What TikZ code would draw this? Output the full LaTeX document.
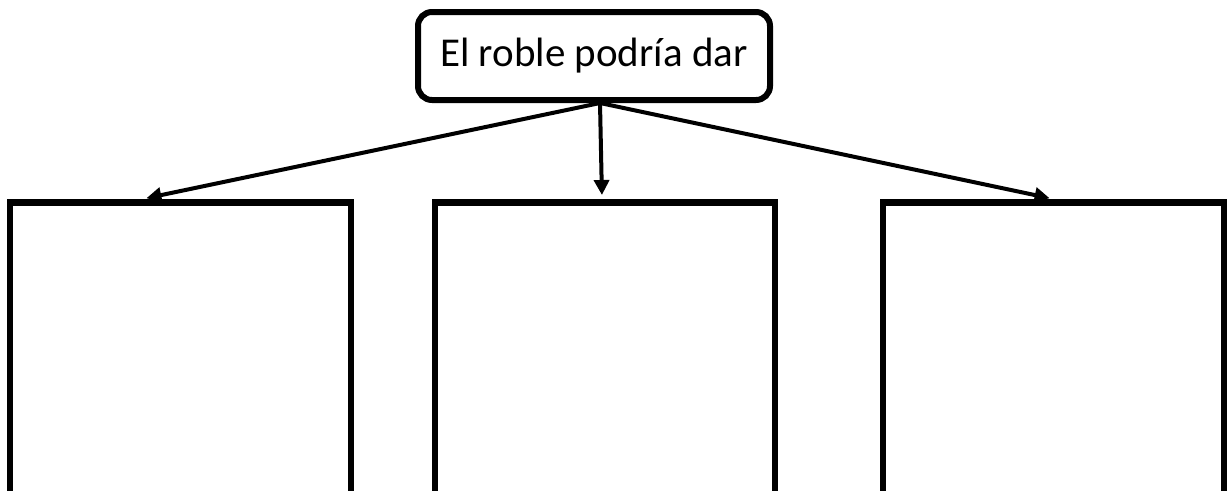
\documentclass[tikz,border=0pt]{standalone}
\usepackage{fontspec}
\setmainfont{Carlito}
\usetikzlibrary{positioning, arrows.meta, calc}
\tikzset{
    title/.style={rectangle, draw=black, line width=6pt, rounded corners=14pt, minimum width=352pt, minimum height=88pt, inner sep=0pt, align=center, font=\fontsize{41}{48}\selectfont},
    box/.style={rectangle, draw=black, line width=6.5pt, minimum height=400pt, anchor=north},
    arrow/.style={-{Triangle[length=15pt,width=15pt]}, line width=4pt, shorten >=4pt}
}

\begin{document}
\begin{tikzpicture}[x=1pt, y=-1pt]
    \useasboundingbox (0,0) rectangle (1228,490);
    \clip (0,0) rectangle (1228,490);

    % Title
    \node[title] (roble) at (594,56) {El roble podría dar};

    % Answer boxes (run off the bottom)
    \node[box, minimum width=341pt] (box1) at (180.5,199) {};
    \node[box, minimum width=340pt] (box2) at (605,199) {};
    \node[box, minimum width=341pt] (box3) at (1053.5,199) {};

    % Arrows
    \draw[arrow] ([xshift=6pt]roble.south) -- ([xshift=-38pt]box1.north);
    \draw[arrow] ([xshift=6pt]roble.south) -- ([xshift=-3pt]box2.north);
    \draw[arrow] ([xshift=6pt]roble.south) -- (box3.north);
\end{tikzpicture}
\end{document}
